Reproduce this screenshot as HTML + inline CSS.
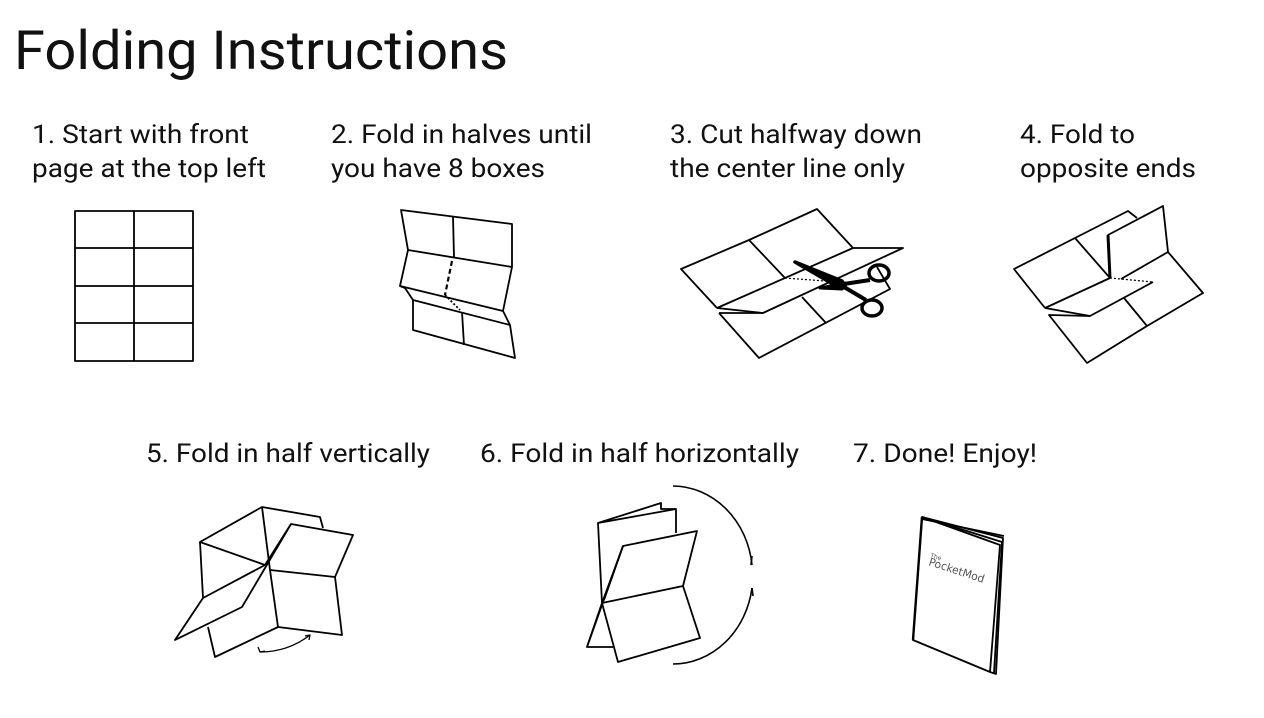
<!DOCTYPE html>
<html><head><meta charset="utf-8"><style>
html,body{margin:0;padding:0;background:#fff;}
body{width:1264px;height:718px;overflow:hidden;position:relative;font-family:"Liberation Sans",Arial,sans-serif;}
</style></head><body>
<svg width="1264" height="718" viewBox="0 0 1264 718" xmlns="http://www.w3.org/2000/svg" style="position:absolute;left:0;top:0">
<g font-family="Roboto,'Liberation Sans',Arial,sans-serif" fill="#111">
<text x="14" y="69" font-size="54" textLength="494" lengthAdjust="spacingAndGlyphs">Folding Instructions</text>
<g font-size="26">
<text x="32" y="143" textLength="217" lengthAdjust="spacingAndGlyphs">1. Start with front</text>
<text x="32" y="177" textLength="234" lengthAdjust="spacingAndGlyphs">page at the top left</text>
<text x="331" y="143" textLength="261" lengthAdjust="spacingAndGlyphs">2. Fold in halves until</text>
<text x="331" y="177" textLength="214" lengthAdjust="spacingAndGlyphs">you have 8 boxes</text>
<text x="670" y="143" textLength="252" lengthAdjust="spacingAndGlyphs">3. Cut halfway down</text>
<text x="670" y="177" textLength="235" lengthAdjust="spacingAndGlyphs">the center line only</text>
<text x="1020" y="143" textLength="115" lengthAdjust="spacingAndGlyphs">4. Fold to</text>
<text x="1020" y="177" textLength="176" lengthAdjust="spacingAndGlyphs">opposite ends</text>
<text x="146" y="462" textLength="284" lengthAdjust="spacingAndGlyphs">5. Fold in half vertically</text>
<text x="480" y="462" textLength="319" lengthAdjust="spacingAndGlyphs">6. Fold in half horizontally</text>
<text x="853" y="462" textLength="184" lengthAdjust="spacingAndGlyphs">7. Done! Enjoy!</text>
</g></g>
<g fill="none" stroke="#000" stroke-width="1.8" stroke-linejoin="round">
<!-- step1 -->
<rect x="75" y="211" width="118" height="150"/>
<line x1="134" y1="211" x2="134" y2="361"/>
<line x1="75" y1="248" x2="193" y2="248"/>
<line x1="75" y1="286" x2="193" y2="286"/>
<line x1="75" y1="323" x2="193" y2="323"/>
<!-- step2 -->
<polyline points="408,250 401,210 512,224 512,267 503,311 510,325 515,358 413,330 413,300"/>
<polyline points="408,250 400,286 405,288 413,300"/>
<line x1="408" y1="250" x2="512" y2="267"/>
<line x1="400" y1="286" x2="503" y2="311"/>
<line x1="413" y1="300" x2="510" y2="325"/>
<line x1="453" y1="217" x2="454" y2="257"/>
<line x1="462" y1="312" x2="464" y2="345"/>
<line x1="452" y1="261" x2="445" y2="295" stroke-dasharray="5,3" stroke-width="2.2"/>
<line x1="445" y1="295" x2="460" y2="310" stroke-dasharray="2,2"/>
<!-- step3 -->
<polyline points="717,308 681,269 749,240 817,209 853,248 903,248 763,313 717,308"/>
<line x1="717" y1="308" x2="853" y2="248"/>
<line x1="749" y1="240" x2="785" y2="278"/>
<polyline points="719,313 759,358 890,289 877,267"/>
<line x1="802" y1="297" x2="826" y2="323"/>
<line x1="719" y1="313" x2="763" y2="313"/>
<line x1="785" y1="278" x2="838" y2="282" stroke-dasharray="2,2" stroke-width="1.2"/>
<!-- scissors -->
<path d="M795,262 L842,281 L846,288 L838,287 Z" fill="#000" stroke-width="3.5"/>
<path d="M820,288 L846,283 L842,289 Z" fill="#000" stroke-width="3"/>
<line x1="844" y1="284" x2="870" y2="280" stroke-width="4"/>
<line x1="844" y1="287" x2="866" y2="300" stroke-width="4"/>
<ellipse cx="879" cy="273" rx="10" ry="8" stroke-width="3.5"/>
<ellipse cx="872" cy="308" rx="10" ry="8" stroke-width="3.5"/>
<!-- step4 -->
<polyline points="1045,308 1014,269 1075,238 1128,211 1137,218"/>
<line x1="1075" y1="238" x2="1110" y2="278"/>
<polyline points="1045,308 1110,278 1108,235 1163,206 1168,252 1203,293 1147,326 1087,363 1049,315 1090,316 1153,282"/>
<line x1="1045" y1="308" x2="1090" y2="316"/>
<line x1="1121" y1="279" x2="1168" y2="252"/>
<line x1="1124" y1="298" x2="1147" y2="326"/>
<line x1="1110" y1="278" x2="1153" y2="282" stroke-dasharray="2,2" stroke-width="1.2"/>
<line x1="1110" y1="278" x2="1108" y2="235" stroke-width="3"/>
<!-- step5 -->
<polyline points="265,565 200,542 262,507 320,517 323,528"/>
<polyline points="200,542 203,598 175,640 242,607 291,524 353,535 335,577 342,635 278,627 215,657 208,627"/>
<line x1="203" y1="598" x2="265" y2="565"/>
<polyline points="262,507 270,570 278,627"/>
<line x1="270" y1="570" x2="335" y2="577"/>
<line x1="265" y1="565" x2="291" y2="524"/>
<path d="M260,652 Q288,652 310,635" stroke-width="1.3"/>
<path d="M258,647 L260,652 L265,651 M305,636 L310,635 L309,640" stroke-width="1.3"/>
<!-- step6 -->
<polyline points="602,603 598,523 661,503 661,509 676,509 676,533"/>
<line x1="598" y1="523" x2="676" y2="509"/>
<polyline points="602,603 587,647 613,647"/>
<polygon points="623,546 697,531 683,586 700,638 618,662 602,603"/>
<line x1="602" y1="603" x2="683" y2="586"/>
<line x1="623" y1="546" x2="604" y2="600"/>
<line x1="623" y1="546" x2="587" y2="647"/>
<path d="M673,486 A80,89 0 0 1 752,565" stroke-width="1.6"/>
<path d="M752,588 A80,89 0 0 1 673,664" stroke-width="1.6"/>
<path d="M752,556 L751,565 M752,588 L753,596" stroke-width="1.6"/>
<!-- step7 -->
<polygon points="922,517 1000,545 990,672 913,640"/>
<polyline points="922,517 1003,538 996,674 990,672"/>
<polyline points="922,517 1002,542 994,673"/>
<polyline points="922,519 1004,536"/>
<line x1="922" y1="517" x2="913" y2="640" stroke-width="2.4"/>
</g>
<g font-family="'DejaVu Sans',sans-serif" fill="#555">
<text x="930" y="557" font-size="6" transform="rotate(18 930 557)">The</text>
<text x="928" y="565" font-size="11" transform="rotate(18 928 565)" textLength="58" lengthAdjust="spacingAndGlyphs">PocketMod</text>
</g>
</svg>
</body></html>
